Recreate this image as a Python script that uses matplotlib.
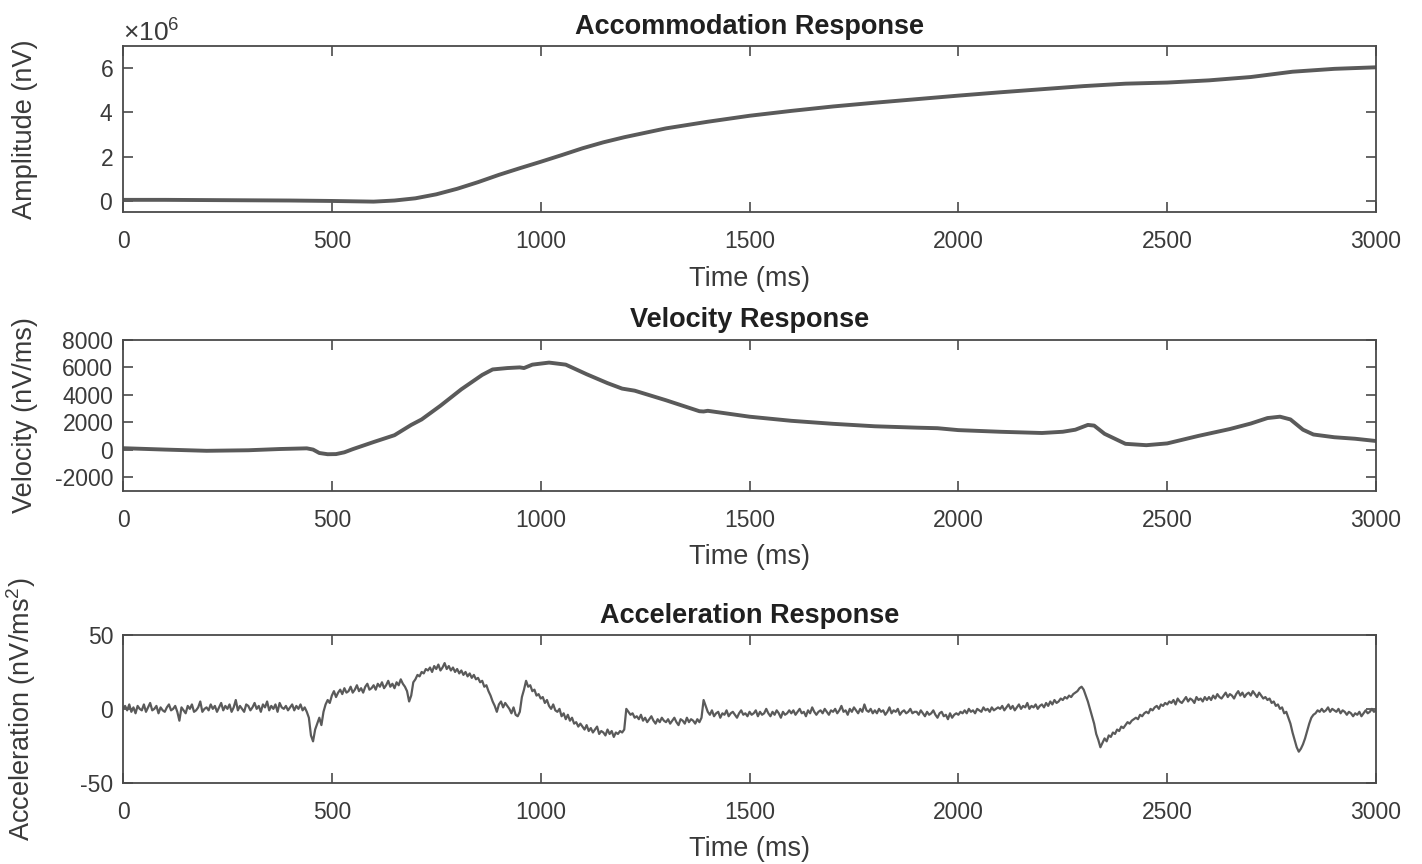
import numpy as np
import matplotlib
matplotlib.use("Agg")
import matplotlib.pyplot as plt
from matplotlib.ticker import ScalarFormatter

plt.rcParams['font.family'] = ['Liberation Sans', 'DejaVu Sans']
plt.rcParams['mathtext.fontset'] = 'custom'
plt.rcParams['mathtext.rm'] = 'Liberation Sans'
plt.rcParams['axes.unicode_minus'] = False

# accommodation amplitude (nV)
amp_t = [0, 100, 200, 300, 400, 500, 600, 650, 700, 750, 800, 850, 900, 950, 1000,
         1050, 1100, 1150, 1200, 1300, 1400, 1500, 1600, 1700, 1800, 1900, 2000,
         2100, 2200, 2300, 2400, 2500, 2600, 2700, 2800, 2900, 3000]
amp_v = [0.05, 0.05, 0.04, 0.03, 0.02, 0.0, -0.03, 0.02, 0.12, 0.30, 0.55, 0.85, 1.18,
         1.48, 1.77, 2.07, 2.38, 2.65, 2.88, 3.28, 3.58, 3.85, 4.07, 4.27, 4.44, 4.60,
         4.76, 4.91, 5.05, 5.19, 5.30, 5.35, 5.45, 5.60, 5.84, 5.97, 6.04]

# velocity (nV/ms)
vel_t = [0, 50, 100, 200, 300, 375, 440, 455, 470, 490, 510, 530, 550, 600, 650, 690,
         715, 760, 810, 860, 885, 920, 950, 960, 980, 1020, 1060, 1110, 1160, 1195, 1225,
         1300, 1380, 1390, 1400, 1500, 1600, 1700, 1800, 1900, 1950, 2000, 2100, 2200,
         2250, 2280, 2310, 2325, 2350, 2400, 2450, 2500, 2575, 2650, 2700, 2740, 2770,
         2795, 2825, 2850, 2900, 2950, 3000]
vel_v = [100, 50, 0, -90, -50, 40, 90, 0, -250, -340, -330, -200, 30, 550, 1050, 1800,
         2200, 3200, 4400, 5450, 5850, 5950, 6000, 5950, 6200, 6350, 6200, 5500, 4850,
         4450, 4300, 3600, 2800, 2780, 2830, 2400, 2100, 1880, 1700, 1600, 1560, 1420,
         1300, 1210, 1300, 1450, 1800, 1750, 1150, 420, 320, 450, 1000, 1500, 1900, 2300,
         2400, 2200, 1450, 1100, 900, 790, 625]

# acceleration (nV/ms^2), one value every 5 ms
acc_v = [
    0, 2, -1, 3, -2, 1, -3, 2, 0, -1, 3, -2, 1, 4, -1, 0, 2, -3, 1, -1,
    -2, 1, 3, -1, 0, 2, -2, -8, 1, -1, -3, 2, 0, 3, -2, -1, 1, 5, -2, 0,
    1, -1, 3, 0, 2, -2, 1, 4, -1, 2, 0, 3, -2, 1, 6, -1, 2, 0, -2, 3,
    2, -1, 1, 4, 0, 2, -2, 3, 1, 5, -1, 2, 0, 3, -2, 4, 1, 0, 2, -1,
    1, 3, -1, 2, 0, 3, -1, 1, -2, -6, -18, -22, -14, -10, -6, -11, -2, 3, 6, 4,
    9, 12, 8, 11, 13, 10, 14, 11, 12, 15, 11, 13, 16, 12, 14, 11, 15, 17, 13, 14,
    16, 13, 17, 15, 18, 14, 16, 19, 15, 17, 14, 18, 16, 20, 17, 15, 12, 5, 9, 18,
    20, 23, 22, 25, 24, 27, 26, 28, 25, 29, 27, 30, 26, 28, 31, 27, 29, 26, 28, 25,
    27, 24, 26, 23, 25, 22, 24, 21, 23, 20, 21, 18, 19, 15, 16, 12, 9, 5, 2, -2,
    3, 5, 1, 4, 2, 0, -3, 1, -4, -5, -2, 8, 13, 19, 15, 16, 12, 13, 9, 10,
    7, 8, 4, 6, 2, 0, 3, -1, -2, 0, -5, -3, -7, -4, -8, -6, -10, -9, -12, -10,
    -12, -14, -11, -15, -13, -16, -14, -12, -17, -15, -16, -18, -14, -17, -15, -19, -16, -17, -15, -16,
    -14, 0, -2, -4, -3, -6, -5, -7, -4, -8, -6, -9, -7, -5, -8, -10, -7, -9, -6, -8,
    -9, -7, -10, -8, -6, -9, -11, -7, -8, -10, -6, -9, -7, -8, -10, -7, -9, -6, 6, 2,
    -2, -4, -1, -5, -3, -2, -6, -3, -4, -1, -5, -3, -2, -4, -6, -3, -1, -4, -3, -5,
    -2, -4, -3, -1, -5, -2, -4, -3, 0, -3, -5, -2, -4, -1, -3, -6, -2, -4, -3, -1,
    -3, -1, -4, -2, 0, -3, -2, -5, -1, -3, 1, -2, -4, -2, -1, -3, 0, -2, -4, -1,
    -2, 0, -3, -1, 2, -2, -1, -4, 0, -2, 1, -1, -3, 0, -2, 3, -1, -2, 0, -3,
    -1, -3, 0, -2, -1, -4, -2, 1, -3, -1, -2, 0, -4, -2, -1, -3, -2, 0, -3, -2,
    -2, -4, -1, -3, -5, -2, -4, -3, -1, -4, -6, -3, -2, -5, -4, -7, -3, -6, -4, -3,
    -4, -2, -3, -1, -3, 0, -2, -1, -3, 0, -1, -2, 1, -1, 0, -2, 1, -1, 0, 1,
    0, 2, -1, 1, 3, 0, 2, -1, 1, 3, 0, 2, 1, 4, 0, 2, 1, 3, 0, 2,
    3, 1, 4, 2, 5, 3, 6, 4, 5, 7, 6, 8, 7, 9, 8, 10, 11, 12, 14, 15,
    13, 9, 5, 0, -5, -10, -17, -21, -26, -23, -20, -22, -18, -19, -16, -17, -14, -15, -12, -13,
    -11, -9, -10, -8, -7, -6, -7, -4, -5, -3, -2, -3, 0, -1, 1, 2, 0, 3, 2, 4,
    3, 5, 4, 6, 3, 7, 5, 4, 6, 8, 5, 7, 6, 4, 8, 6, 7, 5, 8, 6,
    8, 6, 9, 7, 10, 8, 7, 9, 11, 8, 10, 9, 7, 10, 12, 9, 11, 8, 10, 11,
    9, 12, 10, 8, 11, 9, 7, 8, 6, 7, 4, 5, 2, 3, 0, 1, -3, -2, -6, -10,
    -16, -21, -26, -29, -27, -24, -20, -15, -10, -6, -4, -3, -1, -2, 0, -2, -1, 1, -2, 0,
    -1, -2, 0, -3, -1, -2, -4, -2, -3, -5, -3, -4, -2, -5, -3, -1, -3, -2, 0, -2,
    -1,
]
acc_t = np.arange(len(acc_v)) * 5

line_col = '#5a5a5a'
axis_col = '#4a4a4a'
text_col = '#3a3a3a'

fig = plt.figure(figsize=(14.22, 8.64), dpi=100)
ax1 = fig.add_axes([0.0865, 0.7546, 0.8812, 0.1921])
ax2 = fig.add_axes([0.0865, 0.4321, 0.8812, 0.1744])
ax3 = fig.add_axes([0.0865, 0.0941, 0.8812, 0.1709])

ax1.plot(amp_t, np.array(amp_v) * 1e6, color=line_col, lw=2.8)
ax2.plot(vel_t, vel_v, color=line_col, lw=2.8)
ax3.plot(acc_t, acc_v, color=line_col, lw=1.6)

ax1.set_ylim(-0.5e6, 7e6)
ax1.set_yticks([0, 2e6, 4e6, 6e6])
fmt = ScalarFormatter(useMathText=True)
fmt.set_powerlimits((0, 0))
ax1.yaxis.set_major_formatter(fmt)
ax2.set_ylim(-3000, 8000)
ax2.set_yticks([-2000, 0, 2000, 4000, 6000, 8000])
ax3.set_ylim(-50, 50)
ax3.set_yticks([-50, 0, 50])

titles = ['Accommodation Response', 'Velocity Response', 'Acceleration Response']
ylabels = ['Amplitude (nV)', 'Velocity (nV/ms)', 'Acceleration (nV/ms$^2$)']
for ax, ttl, yl in zip([ax1, ax2, ax3], titles, ylabels):
    ax.set_xlim(0, 3000)
    ax.set_xticks(range(0, 3001, 500))
    ax.set_title(ttl, fontsize=19.5, fontweight='bold', color='#202020', pad=9)
    ax.set_xlabel('Time (ms)', fontsize=19.5, color=text_col, labelpad=9)
    ax.set_ylabel(yl, fontsize=19.5, color=text_col)
    ax.yaxis.set_label_coords(-0.068, 0.5)
    ax.tick_params(direction='in', length=7, width=1.2, colors=axis_col,
                   labelcolor=text_col, labelsize=16.5, top=True, right=True)
    ax.tick_params(axis='x', pad=13)
    ax.tick_params(axis='y', pad=7)
    for s in ax.spines.values():
        s.set_color(axis_col)
        s.set_linewidth(1.3)

ax1.yaxis.get_offset_text().set_fontsize(19)
ax1.yaxis.get_offset_text().set_color(text_col)

fig.savefig('out.png', dpi=100)
